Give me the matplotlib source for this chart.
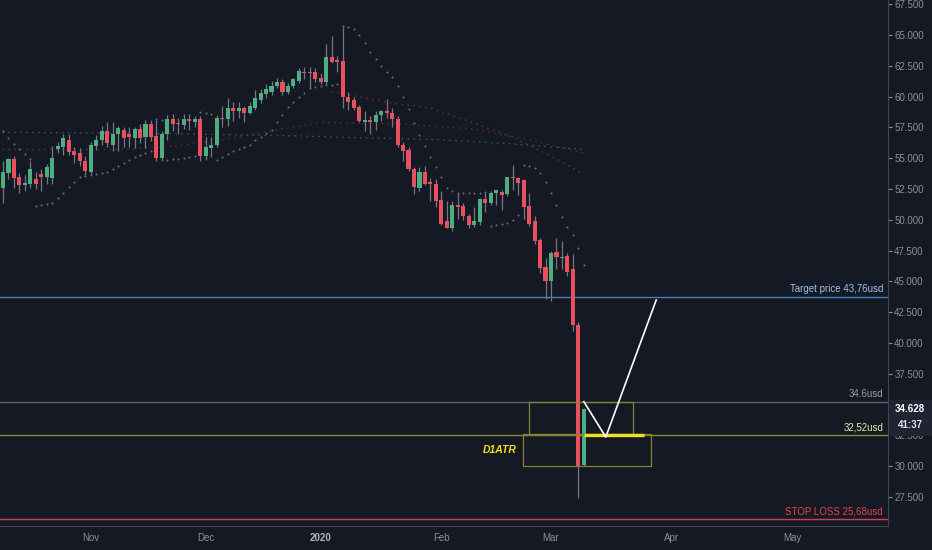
import numpy as np
import pandas as pd
import matplotlib
matplotlib.use("Agg")
import matplotlib.pyplot as plt
from matplotlib.patches import Rectangle
from matplotlib.ticker import FuncFormatter

plt.rcParams['font.family'] = ['Liberation Sans', 'DejaVu Sans']

# daily candles, 10 Oct 2019 -> 10 Mar 2020
opens = [52.56, 53.8, 54.92, 53.45, 52.85, 52.9, 53.3, 53.7, 53.45, 53.4,
         55.73, 55.9, 56.5, 55.6, 55.4, 54.8, 53.9, 55.98, 56.5, 57.2,
         56.1, 57.0, 57.3, 56.95, 56.6, 57.35, 56.7, 57.8, 56.8, 55.0,
         57.0, 58.2, 57.85, 57.7, 58.2, 57.9, 58.15, 55.2, 55.8, 56.1,
         58.25, 58.2, 59.05, 58.8, 59.1, 58.7, 59.1, 59.7, 60.2, 60.4,
         60.9, 61.2, 60.4, 60.9, 61.3, 62.0, 62.0, 62.0, 61.5, 61.2,
         63.2, 63.0, 62.9, 60.0, 59.75, 59.15, 57.9, 58.1, 57.9, 58.5,
         58.8, 58.65, 58.2, 56.1, 55.7, 54.1, 52.6, 53.9, 53.05, 52.9,
         51.6, 49.9, 49.3, 51.2, 51.1, 50.3, 49.55, 49.8, 51.65, 51.35,
         52.15, 52.25, 52.1, 53.45, 53.4, 53.2, 51.1, 49.9, 48.4, 46.2,
         45.0, 47.35, 46.9, 47.05, 46.0, 41.5, 30.1]
highs = [54.76, 55.0, 55.2, 53.8, 53.6, 54.75, 53.9, 54.1, 54.5, 56.0,
         56.3, 57.0, 57.0, 55.9, 55.8, 55.2, 56.3, 56.9, 57.6, 57.9,
         57.9, 57.6, 57.5, 57.5, 57.5, 57.8, 58.1, 58.1, 58.1, 57.2,
         58.5, 58.6, 58.3, 58.6, 58.6, 58.4, 58.4, 56.7, 56.7, 58.5,
         59.2, 59.9, 59.6, 59.6, 59.2, 59.6, 60.5, 60.6, 61.0, 61.3,
         61.5, 61.4, 61.1, 61.5, 62.3, 62.4, 62.4, 62.3, 61.9, 64.3,
         64.9, 63.3, 65.65, 60.4, 60.0, 59.3, 58.8, 58.4, 58.8, 58.9,
         59.8, 59.1, 58.4, 56.3, 55.9, 54.25, 54.25, 54.4, 53.4, 53.3,
         52.3, 51.5, 51.5, 52.15, 51.4, 50.5, 51.0, 51.8, 52.2, 52.3,
         52.4, 52.4, 53.5, 54.45, 53.5, 53.3, 52.2, 50.3, 48.5, 46.9,
         47.5, 48.5, 48.25, 47.3, 47.2, 41.7, 34.7]
lows = [51.34, 53.3, 52.56, 52.15, 52.3, 52.6, 52.5, 52.3, 52.9, 52.9,
        55.4, 55.3, 55.3, 54.6, 54.4, 53.6, 53.7, 55.7, 56.1, 55.9,
        55.6, 55.6, 55.9, 55.9, 55.8, 56.2, 55.8, 56.4, 54.75, 54.75,
        56.5, 57.2, 57.0, 57.4, 57.3, 57.5, 54.75, 54.85, 55.1, 55.9,
        57.5, 57.6, 58.0, 58.3, 57.9, 58.6, 58.9, 59.5, 59.9, 60.1,
        60.7, 60.1, 60.2, 60.7, 61.1, 61.4, 60.8, 61.2, 61.0, 61.0,
        62.7, 62.0, 59.1, 58.9, 58.9, 57.9, 57.2, 57.0, 57.3, 58.0,
        58.3, 57.5, 55.9, 54.75, 54.0, 52.1, 52.3, 52.8, 51.5, 51.0,
        49.6, 49.3, 49.1, 50.1, 50.0, 49.35, 49.4, 49.6, 50.6, 51.2,
        51.2, 50.8, 51.9, 52.4, 52.0, 50.1, 49.5, 48.0, 45.65, 43.6,
        43.4, 46.0, 46.0, 45.4, 41.0, 27.4, 30.0]
closes = [53.86, 54.9, 53.37, 52.8, 52.95, 54.1, 52.9, 53.45, 54.27, 55.0,
          56.0, 56.6, 55.5, 55.3, 54.75, 54.0, 56.1, 56.5, 57.2, 56.2,
          56.95, 57.45, 56.6, 56.7, 57.35, 56.6, 57.76, 56.7, 55.0, 57.0,
          58.2, 57.75, 57.8, 58.2, 58.0, 58.15, 55.2, 55.9, 56.1, 58.3,
          58.2, 59.1, 58.8, 59.1, 58.7, 59.2, 59.9, 60.3, 60.6, 60.9,
          61.2, 60.4, 60.9, 61.4, 62.1, 61.9, 61.95, 61.4, 61.2, 63.2,
          62.8, 62.8, 60.0, 59.6, 59.1, 58.0, 58.1, 57.9, 58.5, 58.8,
          58.65, 58.2, 56.1, 55.6, 54.1, 52.7, 53.86, 52.9, 52.9, 51.5,
          49.7, 49.3, 51.2, 51.0, 50.3, 49.55, 49.9, 51.65, 51.4, 52.15,
          52.4, 52.0, 53.45, 53.4, 53.0, 51.0, 49.7, 48.3, 46.05, 45.0,
          47.3, 46.95, 47.0, 45.8, 41.5, 30.0, 34.63]

# parabolic SAR dots
sar = [57.21, 56.64, 56.15, 55.75, 55.34, 54.9, 51.12, 51.2, 51.28, 51.36,
       51.77, 52.18, 52.66, 53.07, 53.47, 53.56, 53.64, 53.72, 53.8, 53.88,
       54.12, 54.37, 54.61, 54.85, 55.1, 55.26, 55.42, 55.58, 58.2, 58.1,
       54.85, 54.9, 54.94, 55.02, 55.1, 55.18, 58.75, 58.67, 58.59, 54.85,
       55.1, 55.34, 55.58, 55.75, 55.91, 56.07, 56.48, 56.72, 57.05, 57.29,
       57.94, 58.51, 59.16, 59.56, 59.97, 60.29, 60.7, 60.78, 60.86, 60.94,
       60.94, 61.02, 65.7, 65.65, 65.49, 65.0, 64.35, 63.62, 63.05, 62.48,
       62.0, 61.59, 60.86, 59.97, 58.99, 57.86, 56.88, 55.99, 55.1, 54.29,
       53.47, 52.58, 52.34, 52.18, 52.18, 52.18, 52.18, 52.18, 52.25, 49.5,
       49.58, 49.66, 49.74, 49.98, 50.39, 54.45, 54.37, 54.2, 53.8, 53.07,
       52.18, 51.2, 50.23, 49.42, 48.77, 47.71, 46.33]

# moving averages (dotted), read at a few bars
ma_slow_idx = [0, 30, 55, 62, 80, 95, 106]
ma_slow = [57.1, 57.0, 56.8, 56.7, 56.5, 56.1, 55.7]
ma_mid_idx = [0, 20, 30, 40, 50, 58, 72, 85, 95, 106]
ma_mid = [55.7, 55.7, 55.9, 56.5, 57.3, 57.9, 57.8, 57.4, 56.6, 55.4]
ma_fast_idx = [60, 66, 72, 78, 85, 93, 99, 104, 106]
ma_fast = [60.4, 59.9, 59.4, 59.1, 58.0, 56.7, 55.4, 54.2, 53.7]

# drawn levels and labels
target = 43.76
upper_level = 35.25
entry = 32.52
stop_loss = 25.68
level_texts = ["Target price 43,76usd", "34.6usd", "32,52usd", "STOP LOSS 25,68usd"]
last_price = "34.628"
countdown = "41:37"

# boxes (bar index from, bar index to, price low, price high)
box_upper = (96.0, 115.0, 32.6, 35.25)
box_lower = (94.9, 118.2, 30.0, 32.6)
yellow_seg = (106.0, 117.0, 32.52)
path_x = [106.0, 110.0, 119.2]
path_y = [35.24, 32.37, 43.49]

bg = '#151924'
red = '#e94f5d'
green = '#4dae82'
wick = '#757884'
txt = '#8c8f99'

dates = pd.bdate_range('2019-10-10', '2020-05-29', freq='C',
                       holidays=['2019-12-25', '2020-01-01'])
month_pos, month_lab = [], []
for i in range(1, len(dates)):
    if dates[i].month != dates[i - 1].month:
        month_pos.append(i)
        month_lab.append('2020' if dates[i].month == 1 else dates[i].strftime('%b'))

fig = plt.figure(figsize=(9.32, 5.5), dpi=100, facecolor=bg)
ax = fig.add_axes([0, 24 / 550, 888 / 932, 526 / 550], facecolor=bg)

n = len(closes)
x = np.arange(n)
o = np.array(opens); c = np.array(closes)
h = np.array(highs); l = np.array(lows)
cols = [green if cc >= oo else red for oo, cc in zip(o, c)]

# MA dots and SAR
dots = (0, (0.3, 3.6))
ax.plot(ma_slow_idx, ma_slow, color='#4a4e5a', lw=1.1, ls=dots,
        dash_capstyle='round', zorder=1)
ax.plot(ma_mid_idx, ma_mid, color='#62293a', lw=1.1, ls=dots,
        dash_capstyle='round', zorder=1)
ax.plot(ma_fast_idx, ma_fast, color='#702c3b', lw=1.1, ls=dots,
        dash_capstyle='round', zorder=1)
ax.scatter(x, sar, s=2.2, color='#686c78', linewidths=0, zorder=2)

# candles
ax.vlines(x, l, h, color=wick, lw=0.9, zorder=3)
body_lo = np.minimum(o, c)
body_h = np.maximum(np.abs(c - o), 0.08)
ax.bar(x, body_h, bottom=body_lo, width=0.74, color=cols, zorder=4, linewidth=0)

# levels
x_right = 160.6
ax.axhline(target, color='#3f7fc0', lw=1.0, zorder=2)
ax.axhline(upper_level, color='#5f626d', lw=1.0, zorder=2)
ax.axhline(entry, color='#8a8a3a', lw=1.0, zorder=2)
ax.axhline(stop_loss, color='#d23f4c', lw=1.0, zorder=2)
for lev, s, col in zip([target, upper_level, entry, stop_loss], level_texts,
                       ['#9cc2ea', '#9a9da7', '#e6e6a6', '#e2444f']):
    ax.annotate(s, xy=(x_right, lev), xytext=(0, 2), textcoords='offset points',
                ha='right', va='bottom', fontsize=7, color=col)

for (x0, x1, y0, y1) in [box_upper, box_lower]:
    ax.add_patch(Rectangle((x0, y0), x1 - x0, y1 - y0, fill=False,
                           edgecolor='#83832f', lw=0.9, zorder=5))
ax.plot([yellow_seg[0], yellow_seg[1]], [yellow_seg[2], yellow_seg[2]],
        color='#f2de24', lw=2.4, solid_capstyle='butt', zorder=6)
ax.plot(path_x, path_y, color='white', lw=1.2, zorder=6)
ax.text(90.7, 31.3, 'D1ATR', color='#f2de24', fontsize=7.5, fontweight='bold',
        fontstyle='italic', ha='center', va='center', zorder=6)

# axes styling
ax.set_xlim(-0.55, 161.5)
ax.set_ylim(25.15, 67.84)
ax.yaxis.tick_right()
yt = np.arange(27.5, 67.6, 2.5)
ax.set_yticks(yt)
# the 35.000 label sits under the last-price tag
ax.yaxis.set_major_formatter(FuncFormatter(
    lambda v, p: '' if abs(v - 35.0) < 0.01 else f'{v:.3f}'))
ax.tick_params(axis='y', colors=txt, labelsize=7, length=3, width=0.8, pad=1.5)
ax.set_xticks(month_pos)
ax.set_xticklabels(month_lab)
ax.tick_params(axis='x', colors=txt, labelsize=7, length=0, pad=5)
for lab in ax.get_xticklabels():
    if lab.get_text() == '2020':
        lab.set_color('#b2b5be')
        lab.set_fontweight('bold')
for sp in ['top', 'left']:
    ax.spines[sp].set_visible(False)
for sp in ['right', 'bottom']:
    ax.spines[sp].set_color('#434651')
    ax.spines[sp].set_linewidth(0.8)

# last price tag on the price scale
fig.add_artist(Rectangle((889 / 932, (550 - 436) / 550), 43 / 932, 36 / 550,
                         transform=fig.transFigure, facecolor='#1f2332',
                         edgecolor='none', zorder=10))
fig.text(910 / 932, 1 - 409 / 550, last_price, color='white', fontsize=7,
         fontweight='bold', ha='center', va='center', zorder=11)
fig.text(910 / 932, 1 - 425 / 550, countdown, color='#e0e3eb', fontsize=7,
         fontweight='bold', ha='center', va='center', zorder=11)

fig.savefig('out.png', dpi=100, facecolor=bg)
